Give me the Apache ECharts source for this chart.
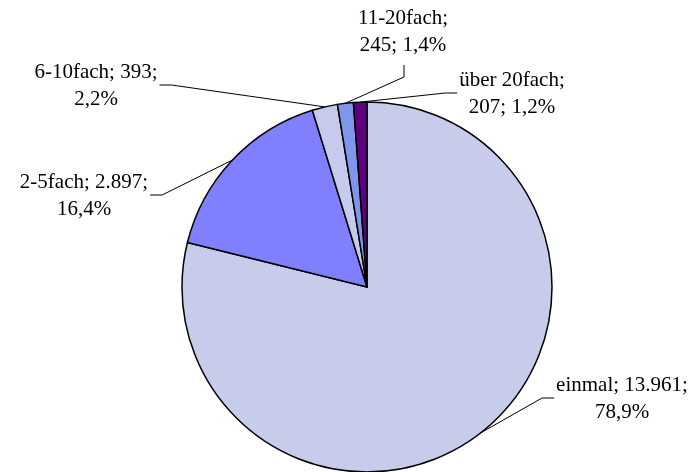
<!DOCTYPE html>
<html lang="de">
<head>
    <meta charset="UTF-8">
    <title>Kreisdiagramm</title>
    <script src="https://cdn.jsdelivr.net/npm/echarts@6/dist/echarts.min.js"></script>
    <style>
        html, body { margin: 0; padding: 0; background: #fff; }
    </style>
</head>
<body>
<div id="main" style="width: 699px;height:472px;"></div>

<script type="text/javascript">
    // Daten
    var categories = ['einmal', '2-5fach', '6-10fach', '11-20fach', 'über 20fach'];
    var values = [13961, 2897, 393, 245, 207];
    var percents = ['78,9%', '16,4%', '2,2%', '1,4%', '1,2%'];
    var valueLabels = ['13.961', '2.897', '393', '245', '207'];
    var colors = ['#C8CCEB', '#8080FF', '#C6CAEC', '#8096EA', '#600080'];

    // Beschriftungen: Mittelpunkt des Textblocks und Seite, an der die Linie ansetzt
    var labelPos = [
        {x: 622, y: 399, side: 'left'},
        {x: 84, y: 196, side: 'right'},
        {x: 96, y: 86, side: 'right'},
        {x: 403, y: 32, side: 'bottom'},
        {x: 512, y: 94, side: 'left'}
    ];

    // Zeilenumbruch wie im Original
    var labelTexts = [
        'einmal; 13.961;\n78,9%',
        '2-5fach; 2.897;\n16,4%',
        '6-10fach; 393;\n2,2%',
        '11-20fach;\n245; 1,4%',
        'über 20fach;\n207; 1,2%'
    ];

    var data = categories.map(function (c, i) {
        return {name: c, value: values[i], itemStyle: {color: colors[i]}};
    });

    var myChart = echarts.init(document.getElementById('main'));
    var option = {
        animation: false,
        series: [{
            type: 'pie',
            center: [367, 287],
            radius: [0, 185],
            startAngle: 90,
            clockwise: true,
            avoidLabelOverlap: false,
            itemStyle: {borderColor: '#000', borderWidth: 1.5},
            emphasis: {disabled: true},
            label: {
                show: true,
                position: 'outside',
                formatter: function (p) { return labelTexts[p.dataIndex]; },
                fontFamily: 'Liberation Serif',
                fontSize: 21,
                lineHeight: 27,
                color: '#000',
                align: 'center'
            },
            labelLine: {
                show: true,
                length: 10,
                length2: 10,
                lineStyle: {color: '#000', width: 1}
            },
            labelLayout: function (params) {
                var pos = labelPos[params.dataIndex];
                var w = params.labelRect.width;
                var h = params.labelRect.height;
                var start = params.labelLinePoints[0];
                var end, elbow;
                if (pos.side === 'left') {
                    end = [pos.x - w / 2 - 2, pos.y - 1];
                    elbow = [end[0] - 12, end[1]];
                } else if (pos.side === 'right') {
                    end = [pos.x + w / 2 + 2, pos.y - 1];
                    elbow = [end[0] + 12, end[1]];
                } else {
                    end = [pos.x + 1, pos.y + h / 2 + 6];
                    elbow = [end[0], end[1] + 12];
                }
                return {
                    x: pos.x,
                    y: pos.y,
                    align: 'center',
                    verticalAlign: 'middle',
                    labelLinePoints: [start, elbow, end]
                };
            },
            data: data
        }]
    };
    myChart.setOption(option);
</script>
</body>
</html>
